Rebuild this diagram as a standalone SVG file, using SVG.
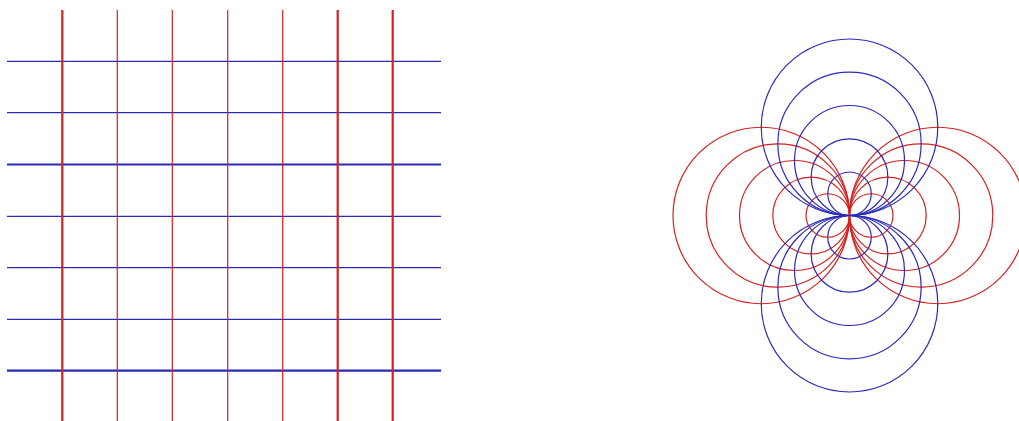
<svg xmlns="http://www.w3.org/2000/svg" width="1019" height="421" viewBox="0 0 1019 421">
<style>
.r{stroke:#d42020;fill:none;stroke-width:1.2}
.b{stroke:#2a2ab8;fill:none;stroke-width:1.2}
.t{stroke-width:2.2}
</style>
<rect width="1019" height="421" fill="#fff"/>
<g id="grid">
<line class="b" x1="7" y1="61.3" x2="441" y2="61.3"/>
<line class="b" x1="7" y1="112.7" x2="441" y2="112.7"/>
<line class="b t" x1="7" y1="164.5" x2="441" y2="164.5"/>
<line class="b" x1="7" y1="216.3" x2="441" y2="216.3"/>
<line class="b" x1="7" y1="267.7" x2="441" y2="267.7"/>
<line class="b" x1="7" y1="319.3" x2="441" y2="319.3"/>
<line class="b t" x1="7" y1="370.7" x2="441" y2="370.7"/>
<line class="r t" x1="62.3" y1="10" x2="62.3" y2="421"/>
<line class="r" x1="117.3" y1="10" x2="117.3" y2="421"/>
<line class="r" x1="172.3" y1="10" x2="172.3" y2="421"/>
<line class="r" x1="227.7" y1="10" x2="227.7" y2="421"/>
<line class="r" x1="282.7" y1="10" x2="282.7" y2="421"/>
<line class="r t" x1="337.7" y1="10" x2="337.7" y2="421"/>
<line class="r t" x1="392.7" y1="10" x2="392.7" y2="421"/>
</g>
<g id="circles">
<circle class="r" cx="761.25" cy="215.5" r="88.25"/>
<circle class="r" cx="777.85" cy="215.5" r="71.65"/>
<circle class="r" cx="794.5" cy="215.5" r="55"/>
<circle class="r" cx="811.15" cy="215.5" r="38.35"/>
<circle class="r" cx="827.75" cy="215.5" r="21.75"/>
<circle class="r" cx="937.75" cy="215.5" r="88.25"/>
<circle class="r" cx="921.15" cy="215.5" r="71.65"/>
<circle class="r" cx="904.5" cy="215.5" r="55"/>
<circle class="r" cx="887.85" cy="215.5" r="38.35"/>
<circle class="r" cx="871.25" cy="215.5" r="21.75"/>
<circle class="b" cx="849.5" cy="127.25" r="88.25"/>
<circle class="b" cx="849.5" cy="143.85" r="71.65"/>
<circle class="b" cx="849.5" cy="160.5" r="55"/>
<circle class="b" cx="849.5" cy="177.15" r="38.35"/>
<circle class="b" cx="849.5" cy="193.75" r="21.75"/>
<circle class="b" cx="849.5" cy="303.75" r="88.25"/>
<circle class="b" cx="849.5" cy="287.15" r="71.65"/>
<circle class="b" cx="849.5" cy="270.5" r="55"/>
<circle class="b" cx="849.5" cy="253.85" r="38.35"/>
<circle class="b" cx="849.5" cy="237.25" r="21.75"/>
</g>
</svg>
